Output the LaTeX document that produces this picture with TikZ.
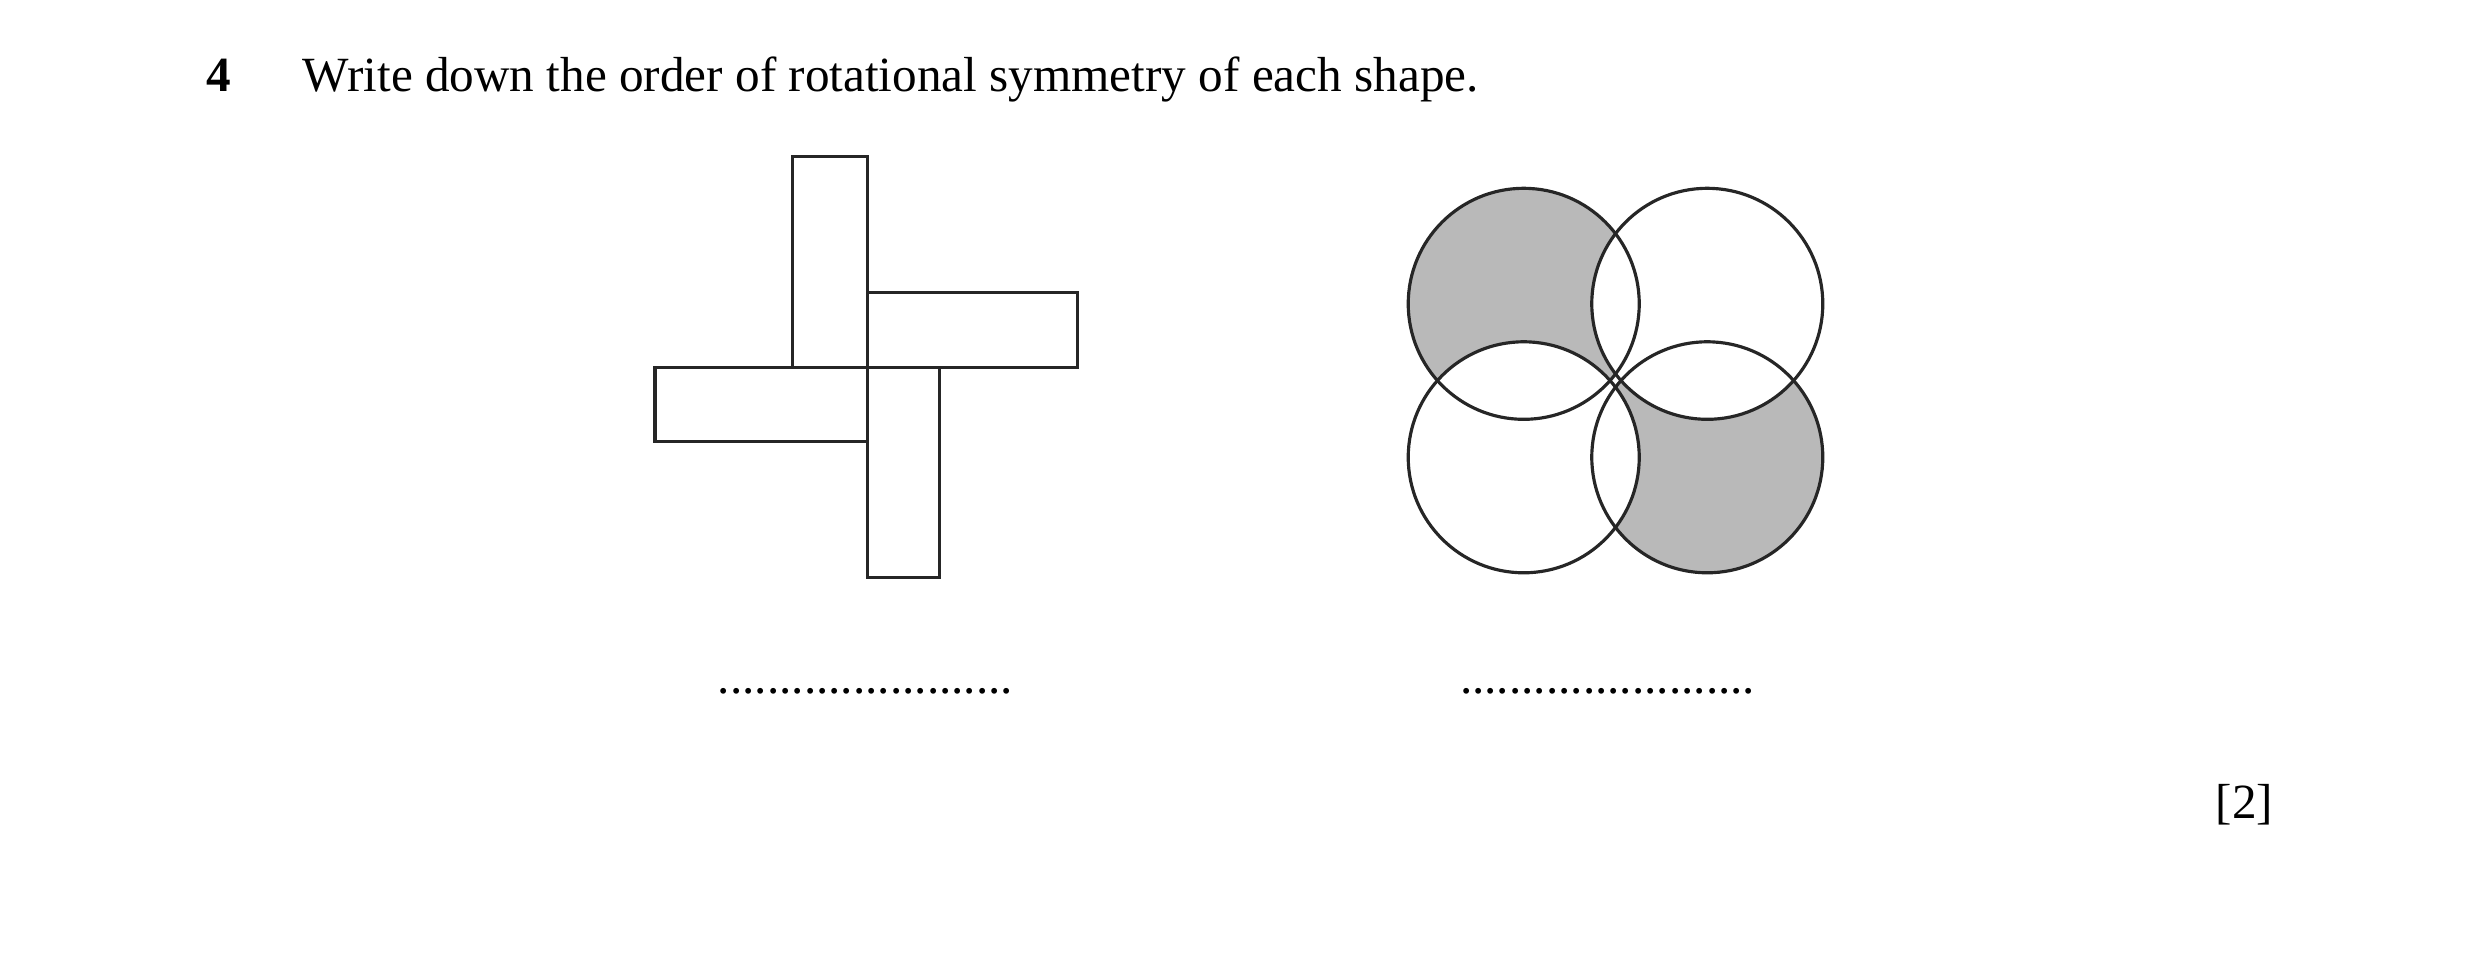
\documentclass[tikz,border=0pt]{standalone}
\usepackage{fontspec}
\setmainfont{Liberation Serif}
\tikzset{
  shape line/.style={line width=0.9pt, draw=black!85},
  qtext/.style={font=\fontsize{14}{16}\selectfont, inner sep=0pt},
}
\begin{document}
\begin{tikzpicture}[x=0.01582cm, y=-0.01582cm]
\useasboundingbox (0,0) rectangle (1568,614);
% question line
\node[qtext, font=\fontsize{14}{16}\selectfont\bfseries, anchor=base west] (num) at (130,58) {4};
\node[qtext, anchor=base west] (question) at (191,58) {Write down the order of rotational symmetry of each shape.};
% pinwheel of four rectangles
\draw[shape line] (501,99) rectangle (548,232);
\draw[shape line] (548,185) rectangle (681,232);
\draw[shape line] (414,232) rectangle (548,279);
\draw[shape line] (548,232) rectangle (594,365);
% four circles, two shaded
\fill[gray!55] (963,192) circle (73) (1079,289) circle (73);
\fill[white] (1079,192) circle (73) (963,289) circle (73);
\foreach \cx/\cy in {963/192, 1079/192, 963/289, 1079/289}
  \draw[shape line] (\cx,\cy) circle (73);
% answer lines
\node[qtext, anchor=base] (ansA) at (547,438) {........................};
\node[qtext, anchor=base] (ansB) at (1016,438) {........................};
\node[qtext, anchor=base east] (marks) at (1437,517) {[2]};
\end{tikzpicture}
\end{document}
